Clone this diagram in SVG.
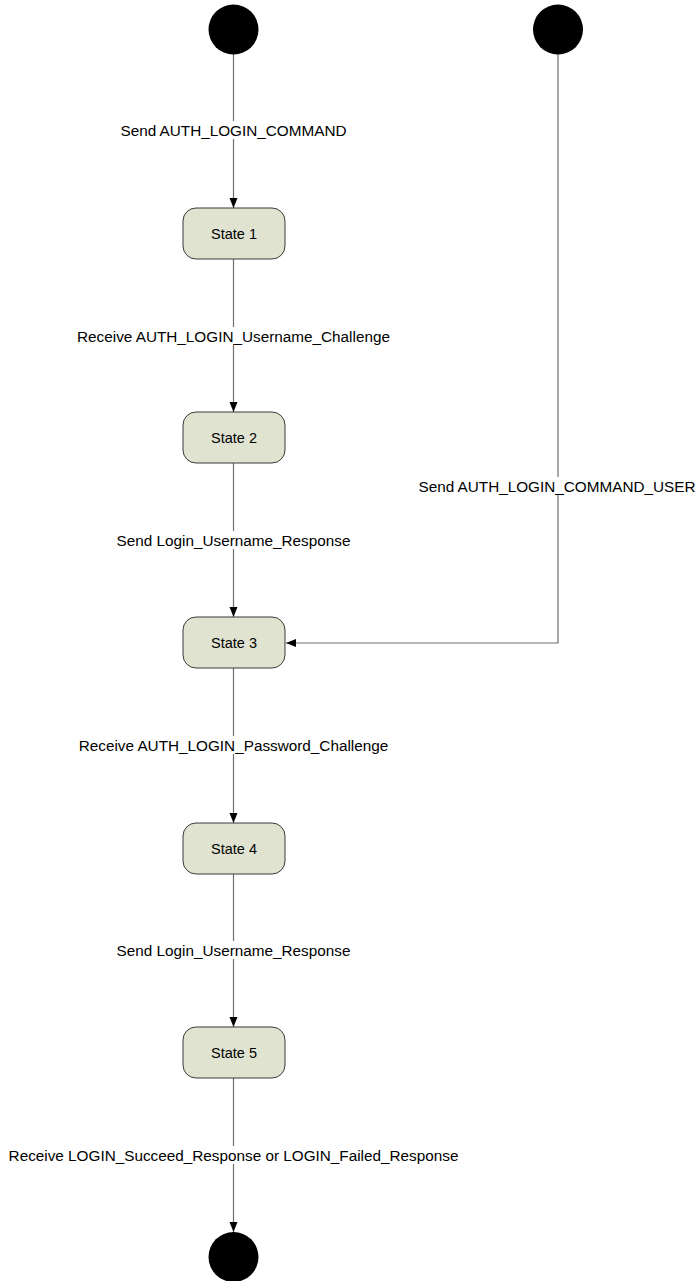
<svg xmlns="http://www.w3.org/2000/svg" width="696" height="1281" viewBox="0 0 696 1281">
<style>
.st rect{fill:#dfe3d0;stroke:#3a3a3a;stroke-width:1}
.st text{font-family:"Liberation Sans",Arial,sans-serif;font-size:14.5px;fill:#000;text-anchor:middle;dominant-baseline:central}
.pt{fill:#000}
.ln{fill:none;stroke:#6e6e6e;stroke-width:1.2}
.lb rect{fill:#fff}
.lb text{font-family:"Liberation Sans",Arial,sans-serif;font-size:15.3px;fill:#000;text-anchor:middle;dominant-baseline:central}
</style>
<defs>
<marker id="ah" viewBox="0 0 10 10" refX="10" refY="5" markerWidth="10" markerHeight="10" markerUnits="userSpaceOnUse" orient="auto">
<path d="M0,1 L10,5 L0,9 Z" fill="#000"/>
</marker>
</defs>
<g id="connectors">
<path class="ln" d="M233.5,54 V208" marker-end="url(#ah)"/>
<path class="ln" d="M233.5,259 V412" marker-end="url(#ah)"/>
<path class="ln" d="M233.5,463 V617" marker-end="url(#ah)"/>
<path class="ln" d="M558,54 V643 H286" marker-end="url(#ah)"/>
<path class="ln" d="M233.5,668 V823" marker-end="url(#ah)"/>
<path class="ln" d="M233.5,874 V1027" marker-end="url(#ah)"/>
<path class="ln" d="M233.5,1078 V1232" marker-end="url(#ah)"/>
<g class="lb">
<rect x="118" y="121" width="231" height="18"/><text x="233.5" y="130">Send AUTH_LOGIN_COMMAND</text>
<rect x="74" y="327" width="319" height="18"/><text x="233.5" y="336">Receive AUTH_LOGIN_Username_Challenge</text>
<rect x="113" y="531" width="241" height="18"/><text x="233.5" y="540">Send Login_Username_Response</text>
<rect x="76" y="736" width="315" height="18"/><text x="233.5" y="745">Receive AUTH_LOGIN_Password_Challenge</text>
<rect x="113" y="941" width="241" height="18"/><text x="233.5" y="950">Send Login_Username_Response</text>
<rect x="4" y="1146" width="459" height="18"/><text x="233.5" y="1155">Receive LOGIN_Succeed_Response or LOGIN_Failed_Response</text>
<rect x="416" y="477" width="280" height="18"/><text x="557" y="486">Send AUTH_LOGIN_COMMAND_USER</text>
</g>
</g>
<g id="start1"><circle class="pt" cx="233.5" cy="29.5" r="25"/></g>
<g id="start2"><circle class="pt" cx="558" cy="29.5" r="25"/></g>
<g id="state1" class="st"><rect x="183" y="208" width="102" height="51" rx="13"/><text x="234" y="233.5">State 1</text></g>
<g id="state2" class="st"><rect x="183" y="412" width="102" height="51" rx="13"/><text x="234" y="437.5">State 2</text></g>
<g id="state3" class="st"><rect x="183" y="617" width="102" height="51" rx="13"/><text x="234" y="642.5">State 3</text></g>
<g id="state4" class="st"><rect x="183" y="823" width="102" height="51" rx="13"/><text x="234" y="848.5">State 4</text></g>
<g id="state5" class="st"><rect x="183" y="1027" width="102" height="51" rx="13"/><text x="234" y="1052.5">State 5</text></g>
<g id="end"><circle class="pt" cx="233.5" cy="1257" r="25"/></g>
</svg>
